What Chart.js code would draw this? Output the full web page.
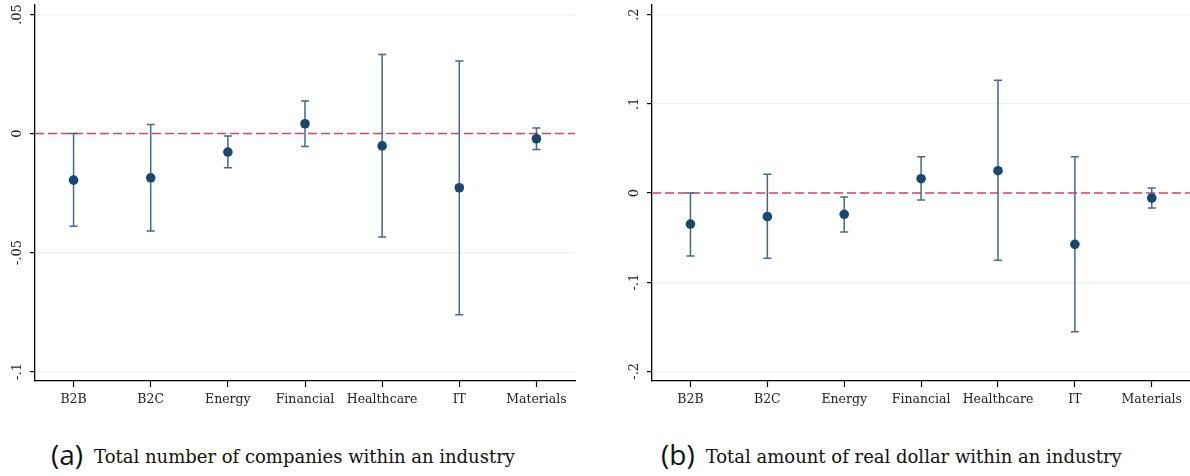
<!DOCTYPE html>
<html>
<head>
<meta charset="utf-8">
<script src="https://cdn.jsdelivr.net/npm/chart.js@4"></script>
<style>
  html, body { margin: 0; padding: 0; background: #fff; }
  body { width: 1190px; height: 476px; overflow: hidden; position: relative; }
  .box { position: absolute; top: 0; height: 420px; }
  .cap { position: absolute; top: 439px; font-family: "DejaVu Serif", serif; font-size: 18px; color: #111; white-space: nowrap; line-height: 30px; }
  .cap span { font-family: "Open Sans", sans-serif; font-size: 28px; margin-right: 11px; vertical-align: -2px; }
</style>
</head>
<body>
<div class="box" style="left:0;width:590px"><canvas id="chartA"></canvas></div>
<div class="box" style="left:595px;width:600px"><canvas id="chartB"></canvas></div>
<div class="cap" style="left:51px"><span>(a)</span>Total number of companies within an industry</div>
<div class="cap" style="left:661px"><span>(b)</span>Total amount of real dollar within an industry</div>

<script>
// categorias
const categories = ['B2B', 'B2C', 'Energy', 'Financial', 'Healthcare', 'IT', 'Materials'];

// (a) numero de companias
const pointA = [-0.0196, -0.0186, -0.0078, 0.0041, -0.0052, -0.0228, -0.0022];
const lowA = [-0.0390, -0.0410, -0.0144, -0.0055, -0.0435, -0.0762, -0.0067];
const highA = [0.0000, 0.0038, -0.0011, 0.0137, 0.0332, 0.0305, 0.0023];
const yTicksA = [-0.1, -0.05, 0, 0.05];
const yLabelsA = ['-.1', '-.05', '0', '.05'];

// (b) dolares reales
const pointB = [-0.0348, -0.0265, -0.0239, 0.0160, 0.0250, -0.0575, -0.0056];
const lowB = [-0.0706, -0.0732, -0.0437, -0.0078, -0.0755, -0.1555, -0.0168];
const highB = [0.0000, 0.0210, -0.0045, 0.0407, 0.1263, 0.0407, 0.0056];
const yTicksB = [-0.2, -0.1, 0, 0.1, 0.2];
const yLabelsB = ['-.2', '-.1', '0', '.1', '.2'];

const serif = '"DejaVu Serif", serif';

// linea punteada en cero + barras de error
const errorBars = {
    id: 'errorBars',
    beforeDatasetsDraw(chart, args, opts) {
        const { ctx, chartArea, scales } = chart;
        const y0 = scales.y.getPixelForValue(0);
        ctx.save();
        ctx.strokeStyle = '#cc4a6e';
        ctx.lineWidth = 1.6;
        ctx.setLineDash([9, 4]);
        ctx.beginPath();
        ctx.moveTo(chartArea.left, y0);
        ctx.lineTo(chartArea.right, y0);
        ctx.stroke();
        ctx.setLineDash([]);

        ctx.strokeStyle = '#43698f';
        ctx.lineWidth = 1.5;
        opts.low.forEach((lo, i) => {
            const x = scales.x.getPixelForValue(i);
            const yl = scales.y.getPixelForValue(lo);
            const yh = scales.y.getPixelForValue(opts.high[i]);
            ctx.beginPath();
            ctx.moveTo(x, yl); ctx.lineTo(x, yh);
            ctx.moveTo(x - 4, yl); ctx.lineTo(x + 4, yl);
            ctx.moveTo(x - 4, yh); ctx.lineTo(x + 4, yh);
            ctx.stroke();
        });
        ctx.restore();
    },
    afterDraw(chart, args, opts) {
        // etiquetas del eje y verticales
        const { ctx, chartArea, scales } = chart;
        ctx.save();
        ctx.fillStyle = '#222';
        ctx.font = '13px ' + serif;
        ctx.textAlign = 'center';
        ctx.textBaseline = 'middle';
        opts.ticks.forEach((v, i) => {
            const y = scales.y.getPixelForValue(v);
            ctx.save();
            ctx.translate(chartArea.left - 17, y);
            ctx.rotate(-Math.PI / 2);
            ctx.fillText(opts.labels[i], 0, 0);
            ctx.restore();
        });
        ctx.restore();
    }
};

const makeChart = (id, points, low, high, ticks, labels, yMin, yMax, padLeft, padRight) => {
    const ctx = document.getElementById(id).getContext('2d');
    return new Chart(ctx, {
        type: 'line',
        data: {
            labels: categories,
            datasets: [{
                data: points,
                showLine: false,
                pointRadius: 4.8,
                pointHoverRadius: 4.8,
                pointBackgroundColor: '#1a476f',
                pointBorderWidth: 0
            }]
        },
        options: {
            responsive: true,
            maintainAspectRatio: false,
            animation: false,
            events: [],
            layout: { padding: { left: padLeft, right: padRight, top: 5, bottom: 9 } },
            plugins: {
                legend: { display: false },
                tooltip: { enabled: false },
                errorBars: { low: low, high: high, ticks: ticks, labels: labels }
            },
            scales: {
                x: {
                    offset: true,
                    grid: { offset: false, drawOnChartArea: false, tickLength: 6, tickColor: '#000', tickWidth: 1.2 },
                    border: { color: '#000', width: 1.3 },
                    ticks: { color: '#222', font: { family: serif, size: 12.5 }, padding: 5, maxRotation: 0 },
                    afterFit: s => { s.height = 30; }
                },
                y: {
                    min: yMin,
                    max: yMax,
                    afterBuildTicks: s => { s.ticks = ticks.map(v => ({ value: v })); },
                    grid: { color: '#eaf2f3', lineWidth: 1.2, tickLength: 5, tickColor: '#000', tickWidth: 1.2 },
                    border: { color: '#000', width: 1.3 },
                    ticks: { display: false },
                    afterFit: s => { s.width = 35; }
                }
            }
        },
        plugins: [errorBars]
    });
};

makeChart('chartA', pointA, lowA, highA, yTicksA, yLabelsA, -0.104, 0.054, 0, 15);
makeChart('chartB', pointB, lowB, highB, yTicksB, yLabelsB, -0.2108, 0.2108, 22, 3);
</script>
</body>
</html>
